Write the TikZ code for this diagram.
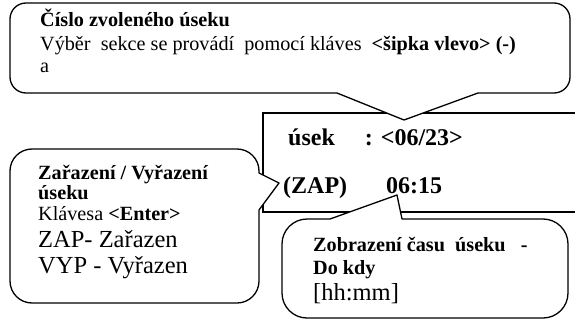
\documentclass[tikz,border=0pt]{standalone}
\usepackage{fontspec}
\setmainfont{Liberation Serif}
\newcommand{\maltxt}{\fontsize{20.2}{23}\selectfont}
\newcommand{\velkytxt}{\fontsize{24.5}{28}\selectfont}
\newcommand{\displtxt}{\fontsize{24}{28}\selectfont\bfseries}

\begin{document}
\begin{tikzpicture}[x=1pt,y=-1pt,
  bubble/.style={draw,fill=white,line width=1.3pt,line join=round},
  txt/.style={anchor=base west,inner sep=0pt}]
\useasboundingbox (0,0) rectangle (575,321);
\draw [line width=1.3pt] (575,113)--(263,113)--(263,212)--(575,212);
\draw [bubble] (337,93) [rounded corners=16pt] -- (10,93) -- (10,3) -- (570,3) -- (570,93) [sharp corners] -- (478,93) -- (404,120) -- cycle;
\draw [bubble] (259,210) [rounded corners=22pt] -- (259,303) -- (10,303) -- (10,149) -- (259,149) [sharp corners] -- (259,173) -- (279,183) -- cycle;
\draw [bubble] (402,219) [rounded corners=25pt] -- (568,219) -- (568,318) -- (282,318) -- (282,219) [sharp corners] -- (330,219) -- (397,195) -- cycle;
\node [txt,font=\maltxt\bfseries] (cislo) at (40,27) {Číslo zvoleného úseku};
\node [txt,font=\maltxt] (vyber) at (40,51) {Výběr\ \ sekce se provádí\ \ pomocí kláves\ \ \textbf{<šipka vlevo> (-)}};
\node [txt,font=\maltxt] (acko) at (40,73) {a};
\node [txt,font=\displtxt] (usek) at (288,145) {úsek\hspace{30pt}: <06/23>};
\node [txt,font=\displtxt] (zap) at (283,193) {(ZAP)\hspace{39pt}06:15};
\node [txt,font=\maltxt\bfseries] (zarazeni) at (38,179) {Zařazení / Vyřazení};
\node [txt,font=\maltxt\bfseries] (useku) at (38,199) {úseku};
\node [txt,font=\maltxt] (enter) at (38,220) {Klávesa \textbf{<Enter>}};
\node [txt,font=\velkytxt] (zapl) at (38,247) {ZAP- Zařazen};
\node [txt,font=\velkytxt] (vypl) at (38,273) {VYP - Vyřazen};
\node [txt,font=\maltxt\bfseries] (cas) at (313,251) {Zobrazení času\ \ úseku\ \ \ -};
\node [txt,font=\maltxt\bfseries] (dokdy) at (313,274) {Do kdy};
\node [txt,font=\velkytxt] (hhmm) at (313,300) {[hh:mm]};
\end{tikzpicture}
\end{document}
